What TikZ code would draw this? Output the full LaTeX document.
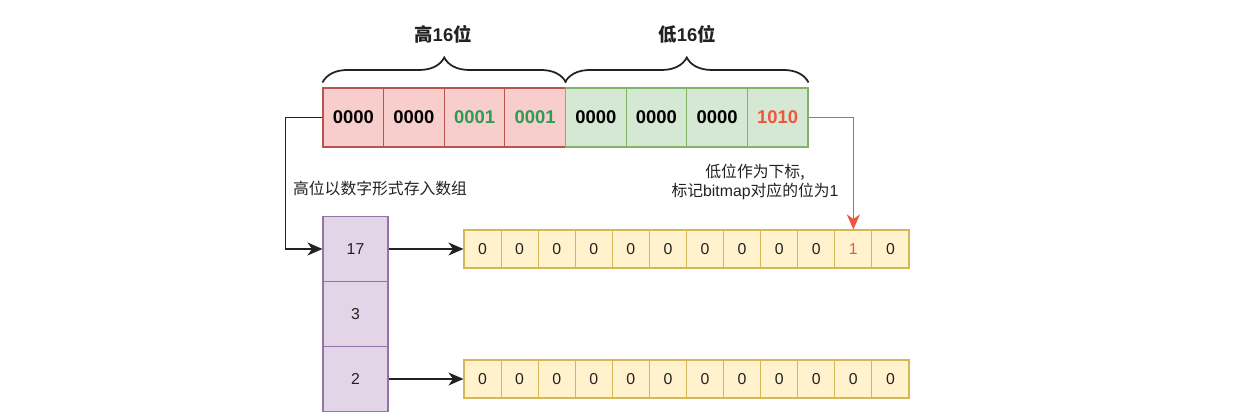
\documentclass[tikz,border=0pt]{standalone}
\usepackage{fontspec}
\setmainfont{Liberation Sans}
\newfontfamily\cjk{Noto Sans CJK SC}
\usetikzlibrary{arrows.meta,decorations.pathreplacing}
\definecolor{hifill}{HTML}{F8CECC}
\definecolor{hiline}{HTML}{B85450}
\definecolor{lofill}{HTML}{D5E8D4}
\definecolor{loline}{HTML}{82B366}
\definecolor{bmfill}{HTML}{FFF2CC}
\definecolor{bmline}{HTML}{D6B656}
\definecolor{keyfill}{HTML}{E1D5E7}
\definecolor{keyline}{HTML}{9673A6}
\definecolor{bitgreen}{HTML}{2E9A52}
\definecolor{bitred}{HTML}{F0553F}
\definecolor{ink}{HTML}{222222}

\begin{document}
\begin{tikzpicture}[x=0.02cm,y=-0.02cm,
  hi/.style={draw=hiline, fill=hifill, line width=0.6pt, minimum width=1.2125cm, minimum height=1.18cm, inner sep=0pt, font=\fontsize{10.5}{12}\selectfont\bfseries},
  lo/.style={hi, draw=loline, fill=lofill},
  key/.style={draw=keyline, fill=keyfill, line width=0.6pt, minimum width=1.3cm, minimum height=1.3cm, inner sep=0pt, font=\fontsize{9}{11}\selectfont, text=ink},
  bit/.style={draw=bmline, fill=bmfill, line width=0.6pt, minimum width=0.7417cm, minimum height=0.76cm, inner sep=0pt, font=\fontsize{9}{11}\selectfont, text=ink},
  arr/.style={-{Stealth[length=3mm,width=2.6mm,inset=0.9mm]}, line width=1pt, color=ink},
  brc/.style={decorate, decoration={brace, amplitude=0.5cm}, line width=1pt, draw=ink},
  ttl/.style={font=\fontsize{10.5}{12}\selectfont\bfseries, text=ink, inner sep=1pt},
  lab/.style={font=\fontsize{9}{11}\selectfont, text=ink, inner sep=1pt}]
\useasboundingbox (0,0) rectangle (1250,418);
% 32-bit value split in halves
\foreach \i/\v/\c in {1/0000/black,2/0000/black,3/0001/bitgreen,4/0001/bitgreen}
  \node[hi, text=\c] (h\i) at ({323+60.625*(\i-0.5)},117.5) {\v};
\foreach \i/\v/\c in {5/0000/black,6/0000/black,7/0000/black,8/1010/bitred}
  \node[lo, text=\c] (h\i) at ({323+60.625*(\i-0.5)},117.5) {\v};
\draw[brc] ([yshift=0.1cm]h1.north west) -- ([yshift=0.1cm]h4.north east);
\draw[brc] ([yshift=0.1cm]h5.north west) -- ([yshift=0.1cm]h8.north east);
\node[ttl] (thi) at (443,34) {{\cjk 高}16{\cjk 位}};
\node[ttl] (tlo) at (687,34) {{\cjk 低}16{\cjk 位}};
% key array
\node[key] (k17) at (355.5,249) {17};
\node[key] (k3)  at (355.5,314) {3};
\node[key] (k2)  at (355.5,379) {2};
% bitmaps
\foreach \j in {1,...,10,12}
  \node[bit] (a\j) at ({464+37.083*(\j-0.5)},249) {0};
\node[bit, text=bitred] (a11) at ({464+37.083*10.5},249) {1};
\foreach \j in {1,...,12}
  \node[bit] (b\j) at ({464+37.083*(\j-0.5)},379) {0};
% connectors
\draw[arr] (h1.west) -- ++(-37,0) |- (k17.west);
\draw[arr, color=bitred] (h8.east) -| (a11.north);
\draw[arr] (k17) -- (a1);
\draw[arr] (k2) -- (b1);
\node[lab, anchor=west] (nhi) at (291,188) {\cjk 高位以数字形式存入数组};
\node[lab, align=center] (nlo) at (755,182) {{\cjk 低位作为下标,}\\{\cjk 标记}bitmap{\cjk 对应的位为}1};
\end{tikzpicture}
\end{document}
